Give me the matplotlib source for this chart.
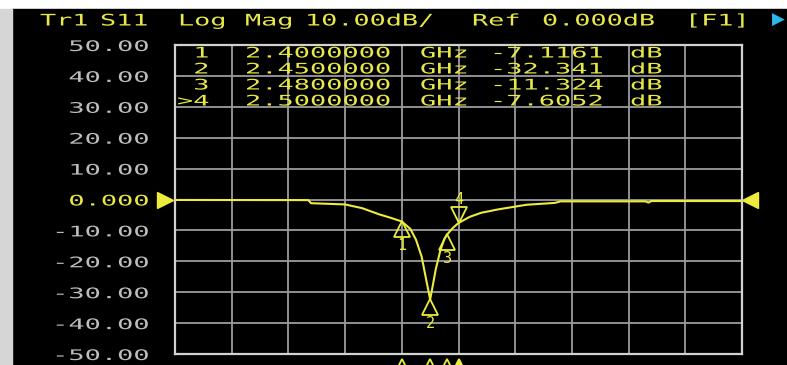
import matplotlib
matplotlib.use("Agg")
import matplotlib.pyplot as plt
from matplotlib import patheffects
from matplotlib.patches import Rectangle
from matplotlib.transforms import Affine2D, ScaledTranslation

# S11 trace (GHz, dB)
freq_ghz = [2.000, 2.235, 2.240, 2.300, 2.330, 2.360, 2.380, 2.400, 2.415, 2.425,
            2.435, 2.442, 2.450, 2.455, 2.460, 2.468, 2.475, 2.480, 2.490, 2.500,
            2.520, 2.540, 2.570, 2.600, 2.620, 2.670, 2.680, 2.830, 2.835, 2.840,
            3.000]
s11_db = [-0.15, -0.20, -1.20, -1.60, -2.80, -4.80, -5.90, -7.1161, -9.5, -13.0,
          -18.5, -25.0, -32.341, -27.5, -22.5, -16.5, -12.8, -11.324, -9.2, -7.6052,
          -5.6, -4.3, -3.2, -2.3, -1.7, -1.1, -0.6, -0.6, -1.0, -0.5,
          -0.5]

# markers
marker_ids = [1, 2, 3, 4]
marker_freq = [2.40, 2.45, 2.48, 2.50]
marker_db = [-7.1161, -32.341, -11.324, -7.6052]
active_marker = 4

y_ticks = [50, 40, 30, 20, 10, 0, -10, -20, -30, -40, -50]
y_labels = ["50.00", "40.00", "30.00", "20.00", "10.00", "0.000",
            "-10.00", "-20.00", "-30.00", "-40.00", "-50.00"]

title_words = ["Tr1", "S11", "Log", "Mag", "10.00dB/", "Ref", "0.000dB", "[F1]"]
title_x = [40, 100, 178, 245, 305, 472, 542, 685]

YEL = "#e8e84a"
TRACE = "#ecec3c"
GREY = "#bdbdbd"
MONO = "DejaVu Sans Mono"
W, H = 787, 365


class Stretch(patheffects.AbstractPathEffect):
    """Widen glyphs horizontally (screen font of the analyzer is wide)."""

    def __init__(self, sx=1.6, anchor="left"):
        super().__init__()
        self.sx = sx
        self.anchor = anchor

    def draw_path(self, renderer, gc, tpath, affine, rgbFace=None):
        ext = tpath.get_extents()
        x0 = {"left": 0.0, "right": ext.x1,
              "center": 0.5 * (ext.x0 + ext.x1)}[self.anchor]
        t = Affine2D().translate(-x0, 0).scale(self.sx, 1).translate(x0, 0)
        renderer.draw_path(gc, tpath, t + affine, rgbFace)


def px(x, y):
    return x / W, 1 - y / H


fig = plt.figure(figsize=(W / 100, H / 100), dpi=100, facecolor="white")
fig.patches.append(Rectangle(px(12, H), 1, 1 - 9 / H, transform=fig.transFigure,
                             color="black", zorder=-10))
fig.patches.append(Rectangle(px(0, H), 12 / W, 1 - 9 / H, transform=fig.transFigure,
                             color="#d6d6d6", zorder=-10))

ax = fig.add_axes([175 / W, 11 / H, 567 / W, 309 / H])
ax.set_facecolor("black")
ax.set_xlim(2.0, 3.0)
ax.set_ylim(-50, 50)
ax.set_xticks([2.0 + 0.1 * i for i in range(11)])
ax.set_xticklabels([])
ax.set_yticks(y_ticks)
ax.set_yticklabels(y_labels)
ax.tick_params(length=0, pad=19, labelsize=10.5)
ax.grid(True, color="#9c9c9c", lw=1.3)
for sp in ax.spines.values():
    sp.set_color("#d2d2d2")
    sp.set_linewidth(1.6)
for lab in ax.get_yticklabels():
    lab.set_family(MONO)
    lab.set_color(YEL if lab.get_text() == "0.000" else GREY)
    lab.set_path_effects([Stretch(1.85, "right")])

# trace
ax.plot(freq_ghz, s11_db, color=TRACE, lw=1.5, zorder=3)

# marker flags on the trace
ms = 11
for n, f, v in zip(marker_ids, marker_freq, marker_db):
    if n == active_marker:
        tr = ax.transData + ScaledTranslation(0, ms / 2 / 72, fig.dpi_scale_trans)
        ax.plot([f], [v], marker="v", ms=ms, mfc="none", mec=TRACE, mew=1.3,
                transform=tr, zorder=4)
        ax.annotate(str(n), (f, v), xytext=(0, ms + 6), textcoords="offset points",
                    ha="center", va="center", color=TRACE, fontsize=11,
                    family=MONO, zorder=4)
    else:
        tr = ax.transData + ScaledTranslation(0, -ms / 2 / 72, fig.dpi_scale_trans)
        ax.plot([f], [v], marker="^", ms=ms, mfc="none", mec=TRACE, mew=1.3,
                transform=tr, zorder=4)
        ax.annotate(str(n), (f, v), xytext=(0, -ms - 6), textcoords="offset points",
                    ha="center", va="center", color=TRACE, fontsize=11,
                    family=MONO, zorder=4)

# marker position ticks under the graticule
for n, f in zip(marker_ids, marker_freq):
    tr = ax.get_xaxis_transform() + ScaledTranslation(0, -9 / 72, fig.dpi_scale_trans)
    ax.plot([f], [0], marker="^", ms=12, mew=1.3, mec=TRACE,
            mfc=TRACE if n == active_marker else "none",
            transform=tr, clip_on=False, zorder=5)

# reference level arrow (left) and trace end flag (right)
ax.plot([0], [0], marker=">", ms=11, color=TRACE, clip_on=False,
        transform=ax.get_yaxis_transform()
        + ScaledTranslation(-7 / 72, 0, fig.dpi_scale_trans))
ax.plot([1], [0], marker="<", ms=11, color=TRACE, clip_on=False,
        transform=ax.get_yaxis_transform()
        + ScaledTranslation(6 / 72, 0, fig.dpi_scale_trans))

# header line
for word, x in zip(title_words, title_x):
    fig.text(*px(x, 21), word, color=YEL, fontsize=11.5, family=MONO,
             ha="left", va="center", path_effects=[Stretch(1.68)])
fig.text(*px(772, 20), "\u25b6", color="#2ab8ec", fontsize=12,
         ha="left", va="center")

# marker readout table
row_y = [53, 69, 85, 101]
for n, f, v, y in zip(marker_ids, marker_freq, marker_db, row_y):
    cells = [(">" if n == active_marker else " ") + str(n),
             f"{f:.7f}", "GHz", f"{v:.5g}", "dB"]
    for txt, x in zip(cells, [177, 245, 420, 490, 630]):
        fig.text(*px(x, y), txt, color=YEL, fontsize=10.5, family=MONO,
                 ha="left", va="center", path_effects=[Stretch(1.85)], zorder=6)

fig.savefig("out.png", dpi=100, facecolor=fig.get_facecolor())
